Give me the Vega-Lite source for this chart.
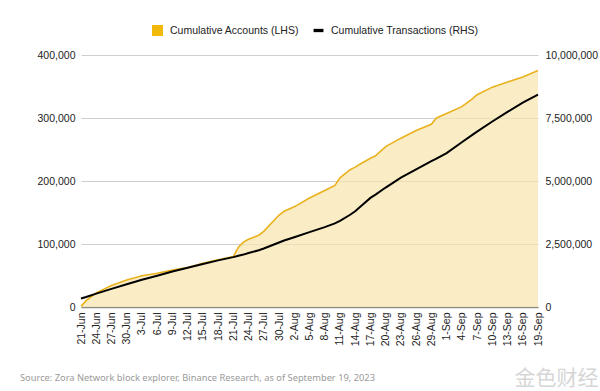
{
  "$schema": "https://vega.github.io/schema/vega-lite/v6.json",
  "width": 457,
  "height": 252,
  "autosize": {"type": "none"},
  "padding": {"left": 81, "top": 55, "right": 62, "bottom": 84},
  "background": "white",
  "config": {
    "view": {"stroke": null},
    "font": "Liberation Sans",
    "axis": {"labelFont": "Liberation Sans", "labelFontSize": 10.5, "labelColor": "#222222"}
  },
  "title": {
    "text": "Source: Zora Network block explorer, Binance Research,  as of September 19, 2023",
    "orient": "bottom",
    "anchor": "start",
    "frame": "group",
    "dx": -61,
    "dy": -14,
    "offset": 0,
    "font": "Noto Sans",
    "fontSize": 9.3,
    "fontWeight": "normal",
    "color": "#9a9a9a"
  },
  "data": {
    "values": [
      {"date": "2023-06-21", "accounts": 1000, "transactions": 340000},
      {"date": "2023-06-22", "accounts": 10000, "transactions": 400000},
      {"date": "2023-06-24", "accounts": 22500, "transactions": 530000},
      {"date": "2023-06-27", "accounts": 34000, "transactions": 720000},
      {"date": "2023-06-30", "accounts": 43000, "transactions": 900000},
      {"date": "2023-07-03", "accounts": 49500, "transactions": 1080000},
      {"date": "2023-07-06", "accounts": 53500, "transactions": 1240000},
      {"date": "2023-07-09", "accounts": 58500, "transactions": 1410000},
      {"date": "2023-07-12", "accounts": 62500, "transactions": 1560000},
      {"date": "2023-07-15", "accounts": 69500, "transactions": 1710000},
      {"date": "2023-07-18", "accounts": 75000, "transactions": 1850000},
      {"date": "2023-07-21", "accounts": 80000, "transactions": 1980000},
      {"date": "2023-07-22", "accounts": 95000, "transactions": 2030000},
      {"date": "2023-07-23", "accounts": 103000, "transactions": 2080000},
      {"date": "2023-07-24", "accounts": 107500, "transactions": 2140000},
      {"date": "2023-07-26", "accounts": 114000, "transactions": 2250000},
      {"date": "2023-07-27", "accounts": 120000, "transactions": 2320000},
      {"date": "2023-07-30", "accounts": 146000, "transactions": 2560000},
      {"date": "2023-07-31", "accounts": 152000, "transactions": 2640000},
      {"date": "2023-08-02", "accounts": 159000, "transactions": 2770000},
      {"date": "2023-08-05", "accounts": 173000, "transactions": 2970000},
      {"date": "2023-08-08", "accounts": 185000, "transactions": 3170000},
      {"date": "2023-08-10", "accounts": 193000, "transactions": 3320000},
      {"date": "2023-08-11", "accounts": 205000, "transactions": 3420000},
      {"date": "2023-08-13", "accounts": 218000, "transactions": 3660000},
      {"date": "2023-08-14", "accounts": 222000, "transactions": 3800000},
      {"date": "2023-08-15", "accounts": 227000, "transactions": 3980000},
      {"date": "2023-08-17", "accounts": 236000, "transactions": 4330000},
      {"date": "2023-08-18", "accounts": 240000, "transactions": 4460000},
      {"date": "2023-08-20", "accounts": 254500, "transactions": 4740000},
      {"date": "2023-08-23", "accounts": 268000, "transactions": 5130000},
      {"date": "2023-08-26", "accounts": 280000, "transactions": 5460000},
      {"date": "2023-08-29", "accounts": 290000, "transactions": 5784000},
      {"date": "2023-08-30", "accounts": 300000, "transactions": 5890000},
      {"date": "2023-09-01", "accounts": 307000, "transactions": 6110000},
      {"date": "2023-09-04", "accounts": 318000, "transactions": 6540000},
      {"date": "2023-09-06", "accounts": 330000, "transactions": 6820000},
      {"date": "2023-09-07", "accounts": 337000, "transactions": 6960000},
      {"date": "2023-09-10", "accounts": 349000, "transactions": 7360000},
      {"date": "2023-09-13", "accounts": 357000, "transactions": 7740000},
      {"date": "2023-09-16", "accounts": 365000, "transactions": 8110000},
      {"date": "2023-09-19", "accounts": 375500, "transactions": 8430000}
    ]
  },
  "encoding": {
    "x": {
      "field": "date",
      "type": "temporal",
      "scale": {
        "type": "utc",
        "nice": false,
        "domain": [
          {"year": 2023, "month": 6, "date": 21, "utc": true},
          {"year": 2023, "month": 9, "date": 19, "utc": true}
        ]
      },
      "axis": {
        "format": "%-d-%b",
        "labelAngle": -90,
        "labelPadding": 5,
        "ticks": false,
        "grid": false,
        "domainColor": "#8c8c80",
        "domainWidth": 1.5,
        "labelOverlap": false,
        "labelBound": false,
        "labelFlush": false,
        "title": "金色财经",
        "titleFont": "Noto Sans CJK SC",
        "titleFontSize": 21,
        "titleFontWeight": "normal",
        "titleColor": "#d6d6d6",
        "titleAlign": "center",
        "titleAnchor": null,
        "titleX": 475,
        "titleY": 77,
        "titleBaseline": "alphabetic",
        "values": [
          {"year": 2023, "month": 6, "date": 21, "utc": true},
          {"year": 2023, "month": 6, "date": 24, "utc": true},
          {"year": 2023, "month": 6, "date": 27, "utc": true},
          {"year": 2023, "month": 6, "date": 30, "utc": true},
          {"year": 2023, "month": 7, "date": 3, "utc": true},
          {"year": 2023, "month": 7, "date": 6, "utc": true},
          {"year": 2023, "month": 7, "date": 9, "utc": true},
          {"year": 2023, "month": 7, "date": 12, "utc": true},
          {"year": 2023, "month": 7, "date": 15, "utc": true},
          {"year": 2023, "month": 7, "date": 18, "utc": true},
          {"year": 2023, "month": 7, "date": 21, "utc": true},
          {"year": 2023, "month": 7, "date": 24, "utc": true},
          {"year": 2023, "month": 7, "date": 27, "utc": true},
          {"year": 2023, "month": 7, "date": 30, "utc": true},
          {"year": 2023, "month": 8, "date": 2, "utc": true},
          {"year": 2023, "month": 8, "date": 5, "utc": true},
          {"year": 2023, "month": 8, "date": 8, "utc": true},
          {"year": 2023, "month": 8, "date": 11, "utc": true},
          {"year": 2023, "month": 8, "date": 14, "utc": true},
          {"year": 2023, "month": 8, "date": 17, "utc": true},
          {"year": 2023, "month": 8, "date": 20, "utc": true},
          {"year": 2023, "month": 8, "date": 23, "utc": true},
          {"year": 2023, "month": 8, "date": 26, "utc": true},
          {"year": 2023, "month": 8, "date": 29, "utc": true},
          {"year": 2023, "month": 9, "date": 1, "utc": true},
          {"year": 2023, "month": 9, "date": 4, "utc": true},
          {"year": 2023, "month": 9, "date": 7, "utc": true},
          {"year": 2023, "month": 9, "date": 10, "utc": true},
          {"year": 2023, "month": 9, "date": 13, "utc": true},
          {"year": 2023, "month": 9, "date": 16, "utc": true},
          {"year": 2023, "month": 9, "date": 19, "utc": true}
        ]
      }
    }
  },
  "layer": [
    {
      "mark": {"type": "area", "color": "#F8E6AE", "line": {"color": "#E9B11C", "strokeWidth": 1.6}},
      "encoding": {
        "y": {
          "field": "accounts",
          "type": "quantitative",
          "scale": {"domain": [0, 400000], "nice": false},
          "axis": {
            "orient": "left",
            "title": null,
            "values": [0, 100000, 200000, 300000, 400000],
            "format": ",.0f",
            "ticks": false,
            "domain": false,
            "labelPadding": 6,
            "gridColor": "#cfcfcf",
            "gridWidth": 1
          }
        }
      }
    },
    {
      "mark": {"type": "line", "color": "#000000", "strokeWidth": 2},
      "encoding": {
        "y": {
          "field": "transactions",
          "type": "quantitative",
          "scale": {"domain": [0, 10000000], "nice": false},
          "axis": {
            "orient": "right",
            "title": null,
            "values": [0, 2500000, 5000000, 7500000, 10000000],
            "format": ",.0f",
            "ticks": false,
            "domain": false,
            "grid": false,
            "labelPadding": 7
          }
        }
      }
    },
    {
      "transform": [{"filter": "false"}],
      "mark": {"type": "point", "filled": true, "opacity": 1},
      "encoding": {
        "color": {
          "field": "series",
          "type": "nominal",
          "scale": {
            "domain": ["Cumulative Accounts (LHS)", "Cumulative Transactions (RHS)"],
            "range": ["#F0B90B", "#000000"]
          },
          "legend": {
            "title": null,
            "orient": "none",
            "direction": "horizontal",
            "legendX": 71,
            "legendY": -30,
            "symbolSize": 121,
            "labelFont": "Liberation Sans",
            "labelFontSize": 10.5,
            "labelColor": "#222222",
            "labelOffset": 7,
            "columnPadding": 14,
            "symbolStrokeWidth": 0,
            "symbolOpacity": 1
          }
        },
        "shape": {
          "field": "series",
          "type": "nominal",
          "scale": {
            "domain": ["Cumulative Accounts (LHS)", "Cumulative Transactions (RHS)"],
            "range": ["square", "M-0.9,-0.3H0.9V0.3H-0.9Z"]
          },
          "legend": {
            "title": null,
            "orient": "none",
            "direction": "horizontal",
            "legendX": 71,
            "legendY": -30,
            "symbolSize": 121,
            "labelFont": "Liberation Sans",
            "labelFontSize": 10.5,
            "labelColor": "#222222",
            "labelOffset": 7,
            "columnPadding": 14,
            "symbolStrokeWidth": 0,
            "symbolOpacity": 1
          }
        }
      }
    }
  ],
  "resolve": {"scale": {"y": "independent"}}
}
